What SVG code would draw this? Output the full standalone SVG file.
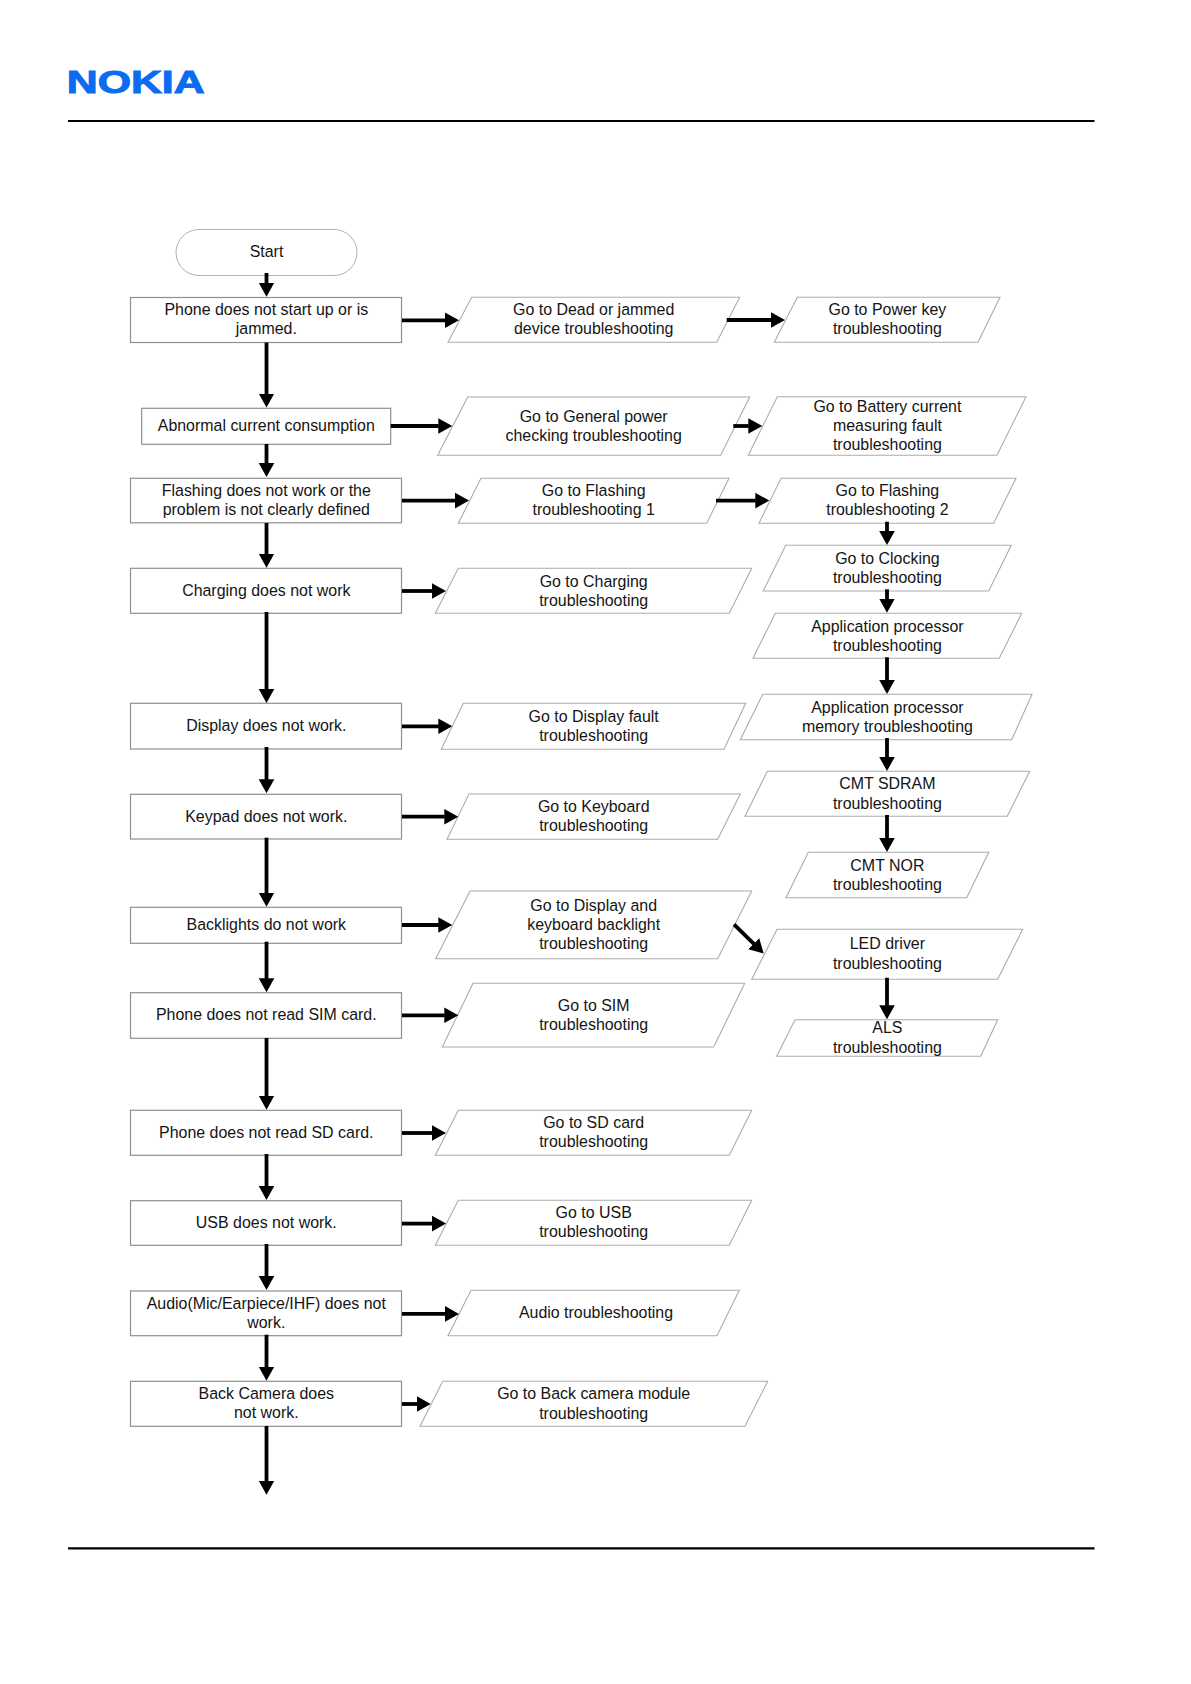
<svg xmlns="http://www.w3.org/2000/svg" width="1191" height="1684" viewBox="0 0 1191 1684">
<style>
text{font-family:"Liberation Sans",Arial,sans-serif;font-size:15.950px;fill:#141414;text-anchor:middle}
.logo{font-weight:700;font-size:31.7px;fill:#0a6cf0;stroke:#0a6cf0;stroke-width:1;text-anchor:start}
.b{fill:#fff;stroke:#8f8f8f;stroke-width:1.2}
.s{fill:#fff;stroke:#b0b0b0;stroke-width:1}
.p{fill:#fff;stroke:#acacac;stroke-width:1.1}
.rule{stroke:#000;stroke-width:2.2}
#connectors line{stroke:#000;stroke-width:3.8;marker-end:url(#ah)}
</style>
<defs><marker id="ah" markerUnits="userSpaceOnUse" markerWidth="15" markerHeight="17" viewBox="0 0 15 17" refX="0.5" refY="8.500" orient="auto"><path d="M0,0.700 L14,8.500 L0,16.300z" fill="#000"/></marker></defs>
<rect width="1191" height="1684" fill="#fff"/>
<g id="header"><text class="logo" transform="translate(66.800,92.500) scale(1.35,1)">NOKIA</text><line class="rule" x1="68" y1="121" x2="1094.500" y2="121"/></g>
<g id="footer"><line class="rule" x1="68" y1="1548.300" x2="1094.500" y2="1548.300"/></g>

<g id="start"><rect class="s" x="176" y="229.500" width="181" height="46" rx="23" ry="23"/><text x="266.500" y="257">Start</text></g>
<g id="n-phone"><rect class="b" x="130.500" y="297.500" width="271" height="45"/><text><tspan x="266.300" y="315">Phone does not start up or is</tspan><tspan x="266.300" y="334">jammed.</tspan></text></g>
<g id="n-current"><rect class="b" x="141.700" y="408.300" width="249" height="36"/><text x="266.300" y="431">Abnormal current consumption</text></g>
<g id="n-flashing"><rect class="b" x="130.500" y="478.300" width="271" height="44.500"/><text><tspan x="266.300" y="496">Flashing does not work or the</tspan><tspan x="266.300" y="515">problem is not clearly defined</tspan></text></g>
<g id="n-charging"><rect class="b" x="130.500" y="568.300" width="271" height="45"/><text x="266.300" y="595.700">Charging does not work</text></g>
<g id="n-display"><rect class="b" x="130.500" y="703.300" width="271" height="45.700"/><text x="266.300" y="731">Display does not work.</text></g>
<g id="n-keypad"><rect class="b" x="130.500" y="794.300" width="271" height="44.700"/><text x="266.300" y="821.700">Keypad does not work.</text></g>
<g id="n-backlights"><rect class="b" x="130.500" y="907.300" width="271" height="36"/><text x="266.300" y="930">Backlights do not work</text></g>
<g id="n-sim"><rect class="b" x="130.500" y="992.700" width="271" height="45.600"/><text x="266.300" y="1020.300">Phone does not read SIM card.</text></g>
<g id="n-sd"><rect class="b" x="130.500" y="1110.300" width="271" height="45"/><text x="266.300" y="1137.700">Phone does not read SD card.</text></g>
<g id="n-usb"><rect class="b" x="130.500" y="1200.700" width="271" height="44.600"/><text x="266.300" y="1228">USB does not work.</text></g>
<g id="n-audio"><rect class="b" x="130.500" y="1291" width="271" height="44.700"/><text><tspan x="266.300" y="1309">Audio(Mic/Earpiece/IHF) does not</tspan><tspan x="266.300" y="1328">work.</tspan></text></g>
<g id="n-camera"><rect class="b" x="130.500" y="1381.300" width="271" height="45"/><text><tspan x="266.300" y="1399.300">Back Camera does</tspan><tspan x="266.300" y="1418.300">not work.</tspan></text></g>

<g id="m-dead"><polygon class="p" points="471.700,297.300 739.700,297.300 716.700,342.300 448,342.300"/><text><tspan x="593.700" y="315">Go to Dead or jammed</tspan><tspan x="593.700" y="334">device troubleshooting</tspan></text></g>
<g id="m-power"><polygon class="p" points="467.700,397 749.700,397 720.700,455.300 437.700,455.300"/><text><tspan x="593.700" y="421.700">Go to General power</tspan><tspan x="593.700" y="440.700">checking troubleshooting</tspan></text></g>
<g id="m-flash1"><polygon class="p" points="481,478.300 729,478.300 706.700,523.300 458.300,523.300"/><text><tspan x="593.700" y="496">Go to Flashing</tspan><tspan x="593.700" y="515">troubleshooting 1</tspan></text></g>
<g id="m-charging"><polygon class="p" points="458.300,568.300 751.700,568.300 729.300,613.300 435.300,613.300"/><text><tspan x="593.700" y="586.700">Go to Charging</tspan><tspan x="593.700" y="605.700">troubleshooting</tspan></text></g>
<g id="m-display"><polygon class="p" points="463.300,703.300 745.700,703.300 724,749.300 441.300,749.300"/><text><tspan x="593.700" y="721.700">Go to Display fault</tspan><tspan x="593.700" y="740.700">troubleshooting</tspan></text></g>
<g id="m-keyboard"><polygon class="p" points="469,794 740.300,794 717.700,839.300 447,839.300"/><text><tspan x="593.700" y="812.300">Go to Keyboard</tspan><tspan x="593.700" y="831.300">troubleshooting</tspan></text></g>
<g id="m-backlight"><polygon class="p" points="470,891 751.700,891 717.700,958.700 435.700,958.700"/><text><tspan x="593.700" y="911">Go to Display and</tspan><tspan x="593.700" y="930">keyboard backlight</tspan><tspan x="593.700" y="949.300">troubleshooting</tspan></text></g>
<g id="m-sim"><polygon class="p" points="473,983.300 744.700,983.300 713.700,1047 442.300,1047"/><text><tspan x="593.700" y="1010.700">Go to SIM</tspan><tspan x="593.700" y="1030">troubleshooting</tspan></text></g>
<g id="m-sd"><polygon class="p" points="458.300,1110.300 751.700,1110.300 729.300,1155.300 435.300,1155.300"/><text><tspan x="593.700" y="1128.300">Go to SD card</tspan><tspan x="593.700" y="1147">troubleshooting</tspan></text></g>
<g id="m-usb"><polygon class="p" points="458.300,1200.300 751.700,1200.300 729.300,1245.300 435.300,1245.300"/><text><tspan x="593.700" y="1218.300">Go to USB</tspan><tspan x="593.700" y="1237">troubleshooting</tspan></text></g>
<g id="m-audio"><polygon class="p" points="471,1290.300 739.300,1290.300 717,1335.700 448,1335.700"/><text x="596" y="1318.300">Audio troubleshooting</text></g>
<g id="m-camera"><polygon class="p" points="442.700,1381.300 767.700,1381.300 745,1426.300 420,1426.300"/><text><tspan x="593.700" y="1399.300">Go to Back camera module</tspan><tspan x="593.700" y="1418.500">troubleshooting</tspan></text></g>

<g id="r-powerkey"><polygon class="p" points="797.300,297.300 1000,297.300 978,342.300 774.300,342.300"/><text><tspan x="887.400" y="315">Go to Power key</tspan><tspan x="887.400" y="334">troubleshooting</tspan></text></g>
<g id="r-battery"><polygon class="p" points="777.300,396.700 1026,396.700 997,455.300 748.300,455.300"/><text><tspan x="887.400" y="412.300">Go to Battery current</tspan><tspan x="887.400" y="431">measuring fault</tspan><tspan x="887.400" y="450.200">troubleshooting</tspan></text></g>
<g id="r-flash2"><polygon class="p" points="781,478.300 1016,478.300 993.700,523.300 759,523.300"/><text><tspan x="887.400" y="496">Go to Flashing</tspan><tspan x="887.400" y="515">troubleshooting 2</tspan></text></g>
<g id="r-clocking"><polygon class="p" points="785.700,545.300 1011.300,545.300 988.700,591 763.300,591"/><text><tspan x="887.400" y="564">Go to Clocking</tspan><tspan x="887.400" y="583">troubleshooting</tspan></text></g>
<g id="r-app"><polygon class="p" points="775.300,613.300 1021.700,613.300 999.300,658.300 753,658.300"/><text><tspan x="887.400" y="631.900">Application processor</tspan><tspan x="887.400" y="651">troubleshooting</tspan></text></g>
<g id="r-appmem"><polygon class="p" points="762.700,694.300 1032,694.300 1011.700,739.700 740.300,739.700"/><text><tspan x="887.400" y="713">Application processor</tspan><tspan x="887.400" y="732">memory troubleshooting</tspan></text></g>
<g id="r-sdram"><polygon class="p" points="767.300,771.300 1029.700,771.300 1007.300,816.300 745,816.300"/><text><tspan x="887.400" y="789.300">CMT SDRAM</tspan><tspan x="887.400" y="808.600">troubleshooting</tspan></text></g>
<g id="r-nor"><polygon class="p" points="808.300,852.300 988.700,852.300 966.700,897.700 786,897.700"/><text><tspan x="887.400" y="870.700">CMT NOR</tspan><tspan x="887.400" y="890">troubleshooting</tspan></text></g>
<g id="r-led"><polygon class="p" points="777,929.300 1022.700,929.300 997.700,979.300 751.700,979.300"/><text><tspan x="887.400" y="949.300">LED driver</tspan><tspan x="887.400" y="968.800">troubleshooting</tspan></text></g>
<g id="r-als"><polygon class="p" points="795,1019.700 997.700,1019.700 980.700,1056.300 776.700,1056.300"/><text><tspan x="887.400" y="1033">ALS</tspan><tspan x="887.400" y="1052.700">troubleshooting</tspan></text></g>

<g id="connectors">
<line x1="266.500" y1="273" x2="266.500" y2="283.200"/>
<line x1="266.500" y1="342.500" x2="266.500" y2="394"/>
<line x1="266.500" y1="444" x2="266.500" y2="463.500"/>
<line x1="266.500" y1="523" x2="266.500" y2="554.200"/>
<line x1="266.500" y1="612" x2="266.500" y2="689.500"/>
<line x1="266.500" y1="747" x2="266.500" y2="779.800"/>
<line x1="266.500" y1="837.700" x2="266.500" y2="893.200"/>
<line x1="266.500" y1="941.700" x2="266.500" y2="978.800"/>
<line x1="266.500" y1="1038" x2="266.500" y2="1096.200"/>
<line x1="266.500" y1="1154" x2="266.500" y2="1186.500"/>
<line x1="266.500" y1="1244" x2="266.500" y2="1276.500"/>
<line x1="266.500" y1="1334.700" x2="266.500" y2="1367.200"/>
<line x1="266.500" y1="1426" x2="266.500" y2="1481.300"/>
<line x1="402" y1="320.300" x2="445.500" y2="320.300"/>
<line x1="390.700" y1="426" x2="438.800" y2="426"/>
<line x1="402" y1="500.600" x2="455.500" y2="500.600"/>
<line x1="402" y1="591" x2="432.500" y2="591"/>
<line x1="402" y1="726.300" x2="438.800" y2="726.300"/>
<line x1="402" y1="816.700" x2="444.800" y2="816.700"/>
<line x1="402" y1="925" x2="438.800" y2="925"/>
<line x1="402" y1="1015.300" x2="444.800" y2="1015.300"/>
<line x1="402" y1="1133" x2="432.500" y2="1133"/>
<line x1="402" y1="1223.600" x2="432.500" y2="1223.600"/>
<line x1="402" y1="1313.900" x2="445.500" y2="1313.900"/>
<line x1="402" y1="1404" x2="417.200" y2="1404"/>
<line x1="726.700" y1="320" x2="771.500" y2="320"/>
<line x1="733.300" y1="426" x2="748.800" y2="426"/>
<line x1="716" y1="500.600" x2="755.800" y2="500.600"/>
<line x1="734" y1="924.300" x2="754.100" y2="944.100"/>
<line x1="887" y1="521.700" x2="887" y2="531.500"/>
<line x1="887" y1="589.300" x2="887" y2="599.200"/>
<line x1="887" y1="657.300" x2="887" y2="680.500"/>
<line x1="887" y1="738" x2="887" y2="757.500"/>
<line x1="887" y1="815" x2="887" y2="838.500"/>
<line x1="887" y1="977.700" x2="887" y2="1005.800"/>
</g>
</svg>
